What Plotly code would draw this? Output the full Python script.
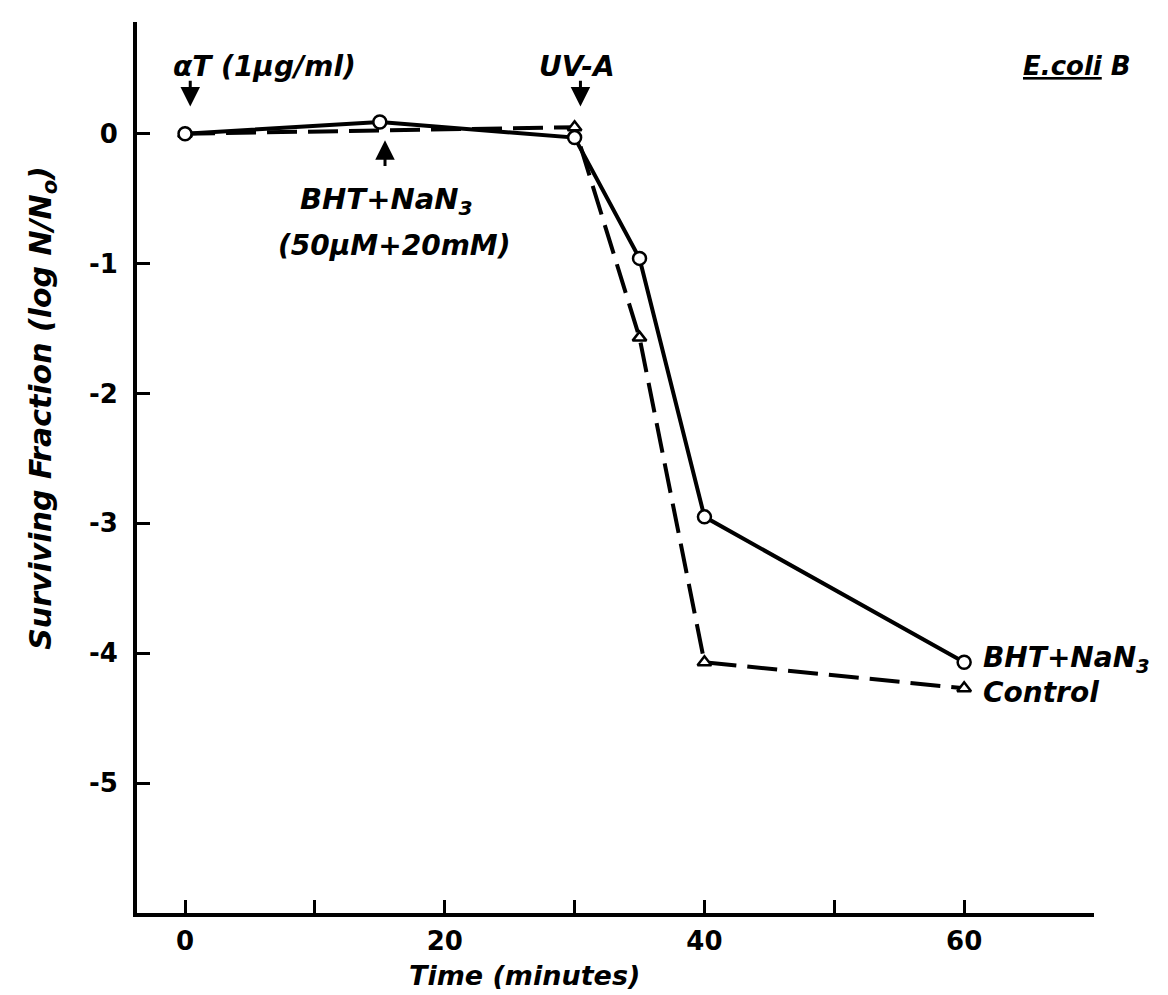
import plotly.graph_objects as go

# Data (time in minutes, log N/N0)
bht_time = [0, 15, 30, 35, 40, 60]
bht_logN = [0.0, 0.09, -0.03, -0.96, -2.95, -4.07]
ctrl_time = [0, 30, 35, 40, 60]
ctrl_logN = [0.0, 0.05, -1.57, -4.07, -4.27]

x_ticks = [0, 20, 40, 60]
x_ticklabels = ["0", "20", "40", "60"]
y_ticks = [0, -1, -2, -3, -4, -5]
y_ticklabels = ["0", "-1", "-2", "-3", "-4", "-5"]

FONT = "DejaVu Sans"

fig = go.Figure()
fig.add_trace(go.Scatter(
    x=ctrl_time, y=ctrl_logN, mode="lines+markers", name="Control",
    line=dict(color="black", width=4, dash="30px,11px"),
    marker=dict(symbol="triangle-up", size=12, color="white", line=dict(color="black", width=2.5)),
))
fig.add_trace(go.Scatter(
    x=bht_time, y=bht_logN, mode="lines+markers", name="BHT+NaN3",
    line=dict(color="black", width=4),
    marker=dict(symbol="circle", size=13, color="white", line=dict(color="black", width=2.5)),
))

annotations = []
def txt(x, y, s, size=28, xanchor="center", xref="x"):
    annotations.append(dict(
        x=x, y=y, xref=xref, yref="y", text=s, showarrow=False, xanchor=xanchor, yanchor="middle",
        font=dict(family=FONT, size=size, color="black", style="italic", weight="bold"),
    ))

def arrow(x, y_from, y_to):
    annotations.append(dict(
        x=x, y=y_to, ax=x, ay=y_from, xref="x", yref="y", axref="x", ayref="y",
        text="", showarrow=True, arrowhead=2, arrowsize=1.3, arrowwidth=3, arrowcolor="black",
    ))

txt(6.1, 0.52, "αT (1μg/ml)", size=28)
arrow(0.4, 0.42, 0.21)
txt(30.2, 0.52, "UV-A", size=28)
arrow(30.45, 0.42, 0.21)
txt(1.041, 0.52, "<u>E.coli</u> B", size=26, xanchor="right", xref="paper")
arrow(15.4, -0.26, -0.05)
txt(15.5, -0.52, "BHT+NaN<sub>3</sub>", size=29)
txt(16.1, -0.86, "(50μM+20mM)", size=28)
txt(61.3, -4.05, "BHT+NaN<sub>3</sub>", size=28, xanchor="left")
txt(61.3, -4.30, "Control", size=28, xanchor="left")

# axis titles as paper-anchored annotations
annotations.append(dict(
    x=0.405, y=0, xref="paper", yref="paper", yshift=-62, xanchor="center", yanchor="middle",
    text="Time (minutes)", showarrow=False,
    font=dict(family=FONT, size=27, color="black", style="italic", weight="bold"),
))
annotations.append(dict(
    x=0, y=0.567, xref="paper", yref="paper", xshift=-94, xanchor="center", yanchor="middle",
    text="Surviving Fraction (log N/N<sub>o</sub>)", showarrow=False, textangle=-90,
    font=dict(family=FONT, size=30, color="black", style="italic", weight="bold"),
))

fig.update_layout(
    width=1168, height=995,
    margin=dict(l=129, r=82, t=14, b=90),
    paper_bgcolor="white", plot_bgcolor="white",
    showlegend=False,
    annotations=annotations,
    font=dict(family=FONT, color="black"),
    xaxis=dict(
        range=[-3.7, 70], tickvals=x_ticks, ticktext=x_ticklabels,
        showline=True, linecolor="black", linewidth=4, showgrid=False, zeroline=False,
        ticks="inside", ticklen=13, tickwidth=3, tickcolor="black", ticklabelstandoff=2,
        tickfont=dict(family=FONT, size=26, weight="bold"),
        minor=dict(tick0=0, dtick=10, ticks="inside", ticklen=13, tickwidth=3,
                   tickcolor="black", showgrid=False),
    ),
    yaxis=dict(
        range=[-6.0, 0.86], tickvals=y_ticks, ticktext=y_ticklabels,
        showline=True, linecolor="black", linewidth=4, showgrid=False, zeroline=False,
        ticks="inside", ticklen=13, tickwidth=3, tickcolor="black", ticklabelstandoff=10,
        tickfont=dict(family=FONT, size=26, weight="bold"),
    ),
)

fig.write_html("out.html")
